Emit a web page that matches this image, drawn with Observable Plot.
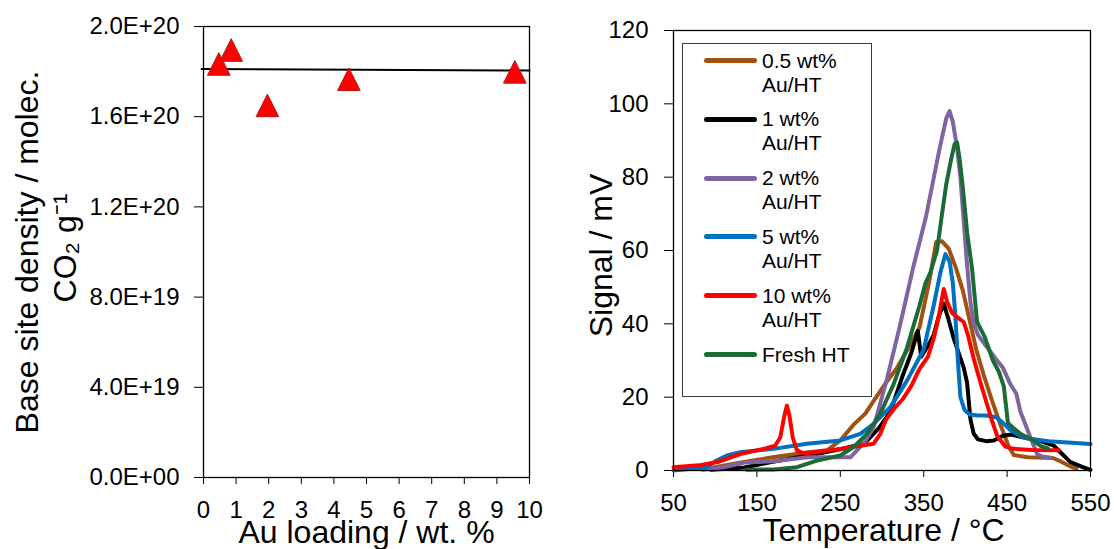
<!DOCTYPE html>
<html>
<head>
<meta charset="utf-8">
<script src="https://cdn.jsdelivr.net/npm/d3@7"></script>
<script src="https://cdn.jsdelivr.net/npm/@observablehq/plot@0.6"></script>
<style>
  html, body { margin: 0; padding: 0; background: #fff; }
  #wrap { position: relative; width: 1114px; height: 549px; overflow: hidden; font-family: 'Liberation Sans', Arial, sans-serif; }
  #left { position: absolute; left: 0; top: 0; }
  #right { position: absolute; left: 560px; top: 0; }
  #legend { position: absolute; left: 682px; top: 43px; width: 190px; height: 354px; box-sizing: border-box;
            border: 1.5px solid #3c3c3c; background: #fff; }
  .sw { position: absolute; left: 21px; width: 53px; height: 5px; border-radius: 3px; }
  .lt { position: absolute; left: 79px; font-size: 21px; line-height: 24px; white-space: pre-line; color: #000; }
</style>
</head>
<body>
<div id="wrap">
  <div id="left"></div>
  <div id="right"></div>
  <div id="legend"></div>
</div>
<script>
// ---------- Left chart data ----------
const auLoading = [0.47, 0.85, 1.96, 4.46, 9.55];
const baseSiteDensity = [1.834e20, 1.896e20, 1.65e20, 1.766e20, 1.799e20];
const trendX = [-0.06, 10];
const trendY = [1.812e20, 1.805e20];
const leftXTicks = [0, 1, 2, 3, 4, 5, 6, 7, 8, 9, 10];
const leftYTicks = [0, 4e19, 8e19, 1.2e20, 1.6e20, 2.0e20];
const leftYTickLabels = ["0.0E+00", "4.0E+19", "8.0E+19", "1.2E+20", "1.6E+20", "2.0E+20"];

// ---------- Right chart data (TPD curves) ----------
const seriesNames = ["0.5 wt%\nAu/HT", "1 wt%\nAu/HT", "2 wt%\nAu/HT", "5 wt%\nAu/HT", "10 wt%\nAu/HT", "Fresh HT"];
const seriesColors = ["#A0520F", "#000000", "#8064A2", "#0070C0", "#FF0000", "#1B6B36"];

const t05 = [85, 106, 140, 169, 212, 234, 250, 266, 280, 290, 305, 318, 330, 345, 357, 365, 372, 380, 389, 397, 405, 413, 422, 432, 442, 452, 458, 475, 505, 515, 525, 533];
const s05 = [0.3, 1.2, 2.5, 3.6, 5.0, 5.5, 8.2, 12.5, 15.5, 19, 24, 28, 32.7, 39, 52, 62.3, 62.5, 60.5, 55, 49, 41, 33, 26, 19, 12.5, 6.5, 4.2, 3.6, 3.4, 2.4, 1.2, 0.5];

const t1 = [95, 135, 169, 212, 254, 279, 296, 310, 325, 335, 343, 347, 355, 362, 368, 374, 380, 386, 392, 398, 402, 406, 410, 415, 425, 434, 445, 455, 470, 490, 506, 516, 526, 540, 550];
const s1 = [0.2, 0.8, 2.4, 4.1, 6.0, 7.4, 11.5, 16, 26, 32, 38, 31, 34, 37, 42, 45.5, 41, 36, 32, 28, 24, 14, 10, 8.5, 8, 8.2, 9.5, 9.8, 9, 8, 6.8, 4.5, 2.3, 1, 0.2];

const t2 = [85, 110, 135, 170, 211, 240, 262, 270, 280, 290, 306, 321, 337, 353, 369, 377, 381, 385, 390, 394, 398, 402, 406, 410, 415, 423, 438, 445, 454, 461, 466, 478, 486, 492, 502];
const s2 = [0.2, 0.9, 2.2, 2.5, 3.6, 3.6, 3.6, 5.5, 8, 11.8, 25, 39, 55, 69.5, 87.7, 96, 98, 95, 88, 80, 68, 56, 46, 40, 37, 34.5, 30, 28, 23.5, 21, 16, 9, 4.5, 3.8, 3.5];

const t5 = [50, 90, 100, 114, 130, 170, 210, 250, 274, 290, 310, 330, 350, 362, 370, 376, 381, 385, 388, 391, 394, 399, 405, 415, 425, 437, 445, 453, 465, 475, 500, 550];
const s5 = [0, 0.9, 2.5, 4.1, 5, 5.9, 7.3, 8.2, 10, 12.7, 17.3, 24.5, 33, 45, 54, 59, 57, 51, 42, 30, 20, 16.5, 15.3, 15, 15, 14.5, 13, 11.2, 9.5, 8.7, 8, 7.2];

const t10 = [50, 80, 103, 130, 160, 172, 178, 183, 186, 189, 193, 198, 206, 220, 250, 270, 290, 298, 305, 315, 325, 335, 345, 355, 362, 368, 374, 378, 384, 392, 398, 403, 410, 418, 426, 432, 438, 448, 458, 480, 512];
const s10 = [0.9, 1.4, 2.3, 4.5, 6.0, 6.8, 9, 15, 17.7, 15, 9, 5.5, 4.7, 5, 5.9, 6.6, 7.3, 10, 14, 17, 19.5, 23, 27.7, 31, 36, 42, 49.5, 46, 43, 41.5, 40.5, 37, 30.5, 24, 18, 13.5, 9.5, 6.5, 5.9, 5.6, 5.5];

const tFresh = [138, 170, 198, 222, 250, 266, 282, 298, 314, 330, 345, 352, 358, 366, 372, 377, 383, 387, 390, 393, 397, 402, 408, 414, 423, 433, 440, 446, 451, 458, 466, 478, 491, 499];
const sFresh = [0.2, 0.3, 0.9, 2.7, 4.1, 6.4, 10, 15.5, 23.6, 33.5, 45, 51, 54, 60, 70, 78, 85, 89, 89.5, 85, 77, 65, 55, 40.5, 36.5, 30, 27, 23, 13, 11.5, 10, 8.6, 6.6, 6.0];

const rightXTicks = [50, 150, 250, 350, 450, 550];
const rightYTicks = [0, 20, 40, 60, 80, 100, 120];

const seriesT = [t05, t1, t2, t5, t10, tFresh];
const seriesS = [s05, s1, s2, s5, s10, sFresh];

// ---------- Shared style ----------
const font = "'Liberation Sans', Arial, sans-serif";
const baseStyle = {fontFamily: font, fontSize: "24px", color: "#000", background: "transparent", overflow: "visible"};

// isosceles triangle marker (width = height), centred on its bounding box
const triangle = {
  draw(context, size) {
    const r = Math.sqrt(size / Math.PI);
    context.moveTo(0, -r);
    context.lineTo(r, r);
    context.lineTo(-r, r);
    context.closePath();
  }
};

// ---------- Left chart ----------
const leftPts = auLoading.map((x, i) => ({x, y: baseSiteDensity[i]}));
const trendPts = trendX.map((x, i) => ({x, y: trendY[i]}));

const left = Plot.plot({
  width: 560, height: 549,
  marginLeft: 203, marginRight: 31, marginTop: 26, marginBottom: 72,
  style: baseStyle,
  x: {domain: [0, 10], ticks: leftXTicks, tickFormat: d => String(d), tickSize: 7, tickPadding: 16, label: null},
  y: {domain: [0, 2e20], ticks: leftYTicks, tickFormat: d => leftYTickLabels[leftYTicks.indexOf(d)], tickSize: 9, tickPadding: 15, label: null},
  marks: [
    Plot.frame({stroke: "#000", strokeWidth: 1.3}),
    Plot.line(trendPts, {x: "x", y: "y", stroke: "#000", strokeWidth: 2}),
    Plot.dot(leftPts, {x: "x", y: "y", symbol: triangle, r: 11.3, fill: "#FF0000", stroke: "#B31414", strokeWidth: 1}),
    Plot.text(["Base site density / molec."], {text: d => d, frameAnchor: "left", dx: 37 - 203, rotate: -90, lineAnchor: "bottom", textAnchor: "middle", fontSize: 32, fill: "#000"}),
    Plot.text(["CO\u2082 g\u207B\u00B9"], {text: d => d, frameAnchor: "left", dx: 75 - 203, dy: -4, rotate: -90, lineAnchor: "bottom", textAnchor: "middle", fontSize: 32, fill: "#000"}),
    Plot.text(["Au loading / wt. %"], {text: d => d, frameAnchor: "bottom", dy: 542 - 477, lineAnchor: "bottom", textAnchor: "middle", fontSize: 32, fill: "#000"})
  ]
});
document.getElementById("left").appendChild(left);

// ---------- Right chart ----------
const lineMarks = seriesT.map((T, k) => Plot.line(T.map((t, i) => ({t, s: seriesS[k][i]})), {
  x: "t", y: "s", stroke: seriesColors[k], strokeWidth: 4, strokeLinejoin: "round", strokeLinecap: "round"
}));

const right = Plot.plot({
  width: 554, height: 549,
  marginLeft: 113, marginRight: 24, marginTop: 30, marginBottom: 79,
  style: baseStyle,
  x: {domain: [50, 550], ticks: rightXTicks, tickSize: 7, tickPadding: 16, label: null},
  y: {domain: [0, 120], ticks: rightYTicks, tickSize: 9, tickPadding: 16, label: null},
  marks: [
    ...lineMarks,
    Plot.frame({stroke: "#000", strokeWidth: 1.3}),
    Plot.text(["Signal / mV"], {text: d => d, frameAnchor: "left", dx: 611 - 673, dy: 5, rotate: -90, lineAnchor: "bottom", textAnchor: "middle", fontSize: 32, fill: "#000"}),
    Plot.text(["Temperature / \u00B0C"], {text: d => d, frameAnchor: "bottom", dx: 1.5, dy: 540 - 470, lineAnchor: "bottom", textAnchor: "middle", fontSize: 32, fill: "#000"})
  ]
});
document.getElementById("right").appendChild(right);

// ---------- Legend ----------
const legend = document.getElementById("legend");
seriesNames.forEach((name, i) => {
  const cy = 61 + i * 58.8 - 43;
  const sw = document.createElement("div");
  sw.className = "sw";
  sw.style.top = (cy - 2.5 - 1.5) + "px";
  sw.style.background = seriesColors[i];
  legend.appendChild(sw);
  const tx = document.createElement("div");
  tx.className = "lt";
  tx.style.top = (cy - 12 - 1.5) + "px";
  tx.textContent = name;
  legend.appendChild(tx);
});
</script>
</body>
</html>
